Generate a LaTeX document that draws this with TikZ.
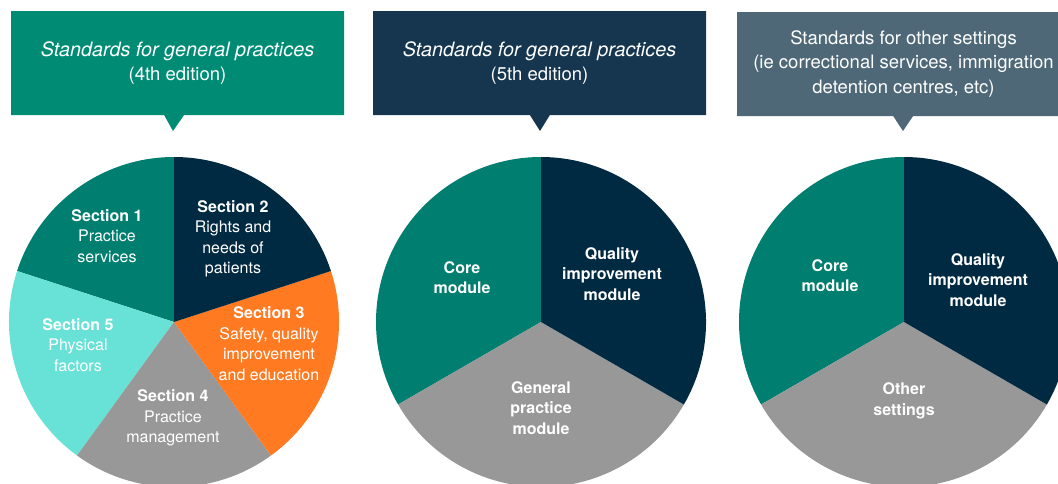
\documentclass[tikz,border=0pt]{standalone}
\usepackage{fontspec}
\setmainfont{TeX Gyre Heros}
\usetikzlibrary{positioning,shapes.callouts}
\definecolor{edfourcolor}{RGB}{0,140,116}
\definecolor{edfivecolor}{RGB}{21,54,78}
\definecolor{othercolor}{RGB}{79,104,120}
\definecolor{tealslice}{RGB}{0,126,112}
\definecolor{navyslice}{RGB}{0,41,66}
\definecolor{orangeslice}{RGB}{255,122,33}
\definecolor{greyslice}{RGB}{152,152,152}
\definecolor{aquaslice}{RGB}{104,226,214}
\newcommand{\stdtitle}{{\fontsize{19.8}{24}\selectfont\textit{Standards for general practices}}}

\begin{document}
\begin{tikzpicture}[x=1pt, y=1pt,
		% Title styles
		titlebox/.style={rectangle callout, minimum width=333pt, minimum height=104pt,
			inner sep=0pt, callout pointer width=20pt, text=white, align=center,
			font=\fontsize{18.5}{24.5}\selectfont},
		% Slice label styles
		sectionlabel/.style={text=white, align=center, inner sep=0pt,
			font=\fontsize{16}{20.5}\selectfont},
		modulelabel/.style={text=white, align=center, inner sep=0pt,
			font=\fontsize{16}{20.5}\selectfont\bfseries}
		]
		
		\useasboundingbox (0,0) rectangle (1058,-483);
		\clip (0,0) rectangle (1058,-483);
		
		% Title boxes
		\node[titlebox, fill=edfourcolor, callout absolute pointer={(173,-131)}] (title4) at (177.5,-63)
			{\stdtitle\\(4th edition)};
		\node[titlebox, fill=edfivecolor, callout absolute pointer={(540,-131)}] (title5) at (539.5,-63)
			{\stdtitle\\(5th edition)};
		\node[titlebox, fill=othercolor, callout absolute pointer={(903,-131)}] (titleother) at (903.5,-64)
			{Standards for other settings\\(ie correctional services, immigration\\detention centres, etc)};
		
		% Pie centres
		\coordinate (pie4) at (174,-322);
		\coordinate (pie5) at (541,-322);
		\coordinate (pieother) at (904,-322);
		
		% 4th edition pie
		\fill[tealslice] (pie4) -- ++(90:165) arc[start angle=90, end angle=162, radius=165] -- cycle;
		\fill[aquaslice] (pie4) -- ++(162:165) arc[start angle=162, end angle=234, radius=165] -- cycle;
		\fill[greyslice] (pie4) -- ++(234:165) arc[start angle=234, end angle=306, radius=165] -- cycle;
		\fill[orangeslice] (pie4) -- ++(306:165) arc[start angle=306, end angle=378, radius=165] -- cycle;
		\fill[navyslice] (pie4) -- ++(18:165) arc[start angle=18, end angle=90, radius=165] -- cycle;
		
		% 5th edition pie
		\fill[tealslice] (pie5) -- ++(90:165) arc[start angle=90, end angle=210, radius=165] -- cycle;
		\fill[greyslice] (pie5) -- ++(210:165) arc[start angle=210, end angle=330, radius=165] -- cycle;
		\fill[navyslice] (pie5) -- ++(330:165) arc[start angle=330, end angle=450, radius=165] -- cycle;
		
		% Other settings pie
		\fill[tealslice] (pieother) -- ++(90:165) arc[start angle=90, end angle=210, radius=165] -- cycle;
		\fill[greyslice] (pieother) -- ++(210:165) arc[start angle=210, end angle=330, radius=165] -- cycle;
		\fill[navyslice] (pieother) -- ++(330:165) arc[start angle=330, end angle=450, radius=165] -- cycle;
		
		% Section labels
		\node[sectionlabel] (sec1) at (107,-236) {\textbf{Section 1}\\Practice\\services};
		\node[sectionlabel] (sec2) at (233,-239) {\textbf{Section 2}\\Rights and\\needs of\\patients};
		\node[sectionlabel] (sec3) at (269,-343.5) {\textbf{Section 3}\\Safety, quality\\improvement\\and education};
		\node[sectionlabel] (sec4) at (173,-418) {\textbf{Section 4}\\Practice\\management};
		\node[sectionlabel] (sec5) at (78,-345) {\textbf{Section 5}\\Physical\\factors};
		
		% Module labels
		\node[modulelabel] (core5) at (462,-277.5) {Core\\module};
		\node[modulelabel] (quality5) at (612,-274) {Quality\\improvement\\module};
		\node[modulelabel] (gp5) at (541,-408) {General\\practice\\module};
		
		\node[modulelabel] (coreother) at (830,-275.5) {Core\\module};
		\node[modulelabel] (qualityother) at (978,-280) {Quality\\improvement\\module};
		\node[modulelabel] (settings) at (904,-401) {Other\\settings};
		
	\end{tikzpicture}
\end{document}
